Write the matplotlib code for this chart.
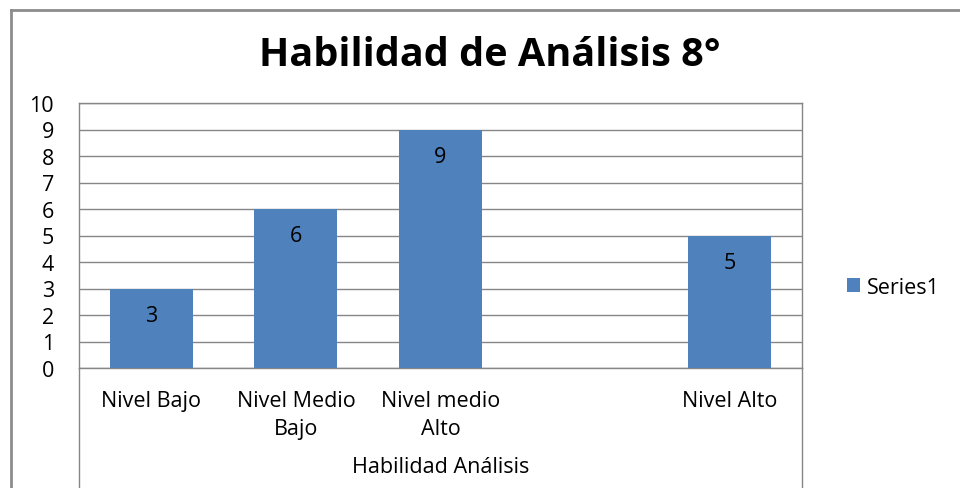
import matplotlib
matplotlib.use("Agg")
import matplotlib.pyplot as plt
from matplotlib.lines import Line2D

categories = ["Nivel Bajo", "Nivel Medio\nBajo", "Nivel medio\nAlto", "", "Nivel Alto"]
values = [3, 6, 9, 0, 5]
labels_shown = [True, True, True, False, True]
yticks = list(range(0, 11))
title = "Habilidad de Análisis 8°"
group_label = "Habilidad Análisis"
series_name = "Series1"

W, H = 960, 489
plt.rcParams['font.family'] = ['Open Sans', 'DejaVu Sans']
fig = plt.figure(figsize=(W / 100, H / 100), dpi=100)
fig.patch.set_facecolor("white")

x0, x1, ytop, ybot = 79, 802, 104, 369
ax = fig.add_axes([x0 / W, (H - ybot) / H, (x1 - x0) / W, (ybot - ytop) / H])

bar_color = "#4F81BD"
grid_color = "#868686"
fs = 15.5
xs = list(range(len(categories)))
bars = ax.bar(xs, values, width=0.575, color=bar_color, zorder=3, label=series_name)
for x, v, show in zip(xs, values, labels_shown):
    if show:
        ax.annotate(str(v), (x, v), xytext=(0, -27), textcoords="offset pixels",
                    ha="center", va="center", fontsize=fs, color="#000000", zorder=4)

ax.set_xlim(-0.5, len(categories) - 0.5)
ax.set_ylim(0, 10)
ax.set_yticks(yticks)
ax.set_yticklabels([str(t) for t in yticks], fontsize=fs)
ax.set_xticks(xs)
ax.set_xticklabels(categories, fontsize=fs, linespacing=1.42)
ax.tick_params(axis="both", length=0)
ax.tick_params(axis="y", pad=18)
ax.tick_params(axis="x", pad=16)
ax.yaxis.grid(True, color=grid_color, linewidth=1.0, zorder=0)
ax.set_axisbelow(True)
for s in ["top", "right", "left", "bottom"]:
    ax.spines[s].set_color(grid_color)
    ax.spines[s].set_linewidth(1.0)

# extended vertical lines for category group area
fig.add_artist(Line2D([x0 / W, x0 / W], [0, (H - ybot) / H], color=grid_color, lw=1.0))
fig.add_artist(Line2D([x1 / W, x1 / W], [0, (H - ybot) / H], color=grid_color, lw=1.0))

fig.text((x0 + x1) / 2 / W, 1 - 468 / H, group_label, ha="center", va="center", fontsize=fs)

fig.text((258 + 722) / 2 / W, 1 - 55 / H, title, ha="center", va="center", fontsize=28.5, fontweight="bold")

leg = fig.legend(handles=[bars], labels=[series_name], loc="center left",
                 bbox_to_anchor=(828 / W, 1 - 288 / H), frameon=False, fontsize=fs,
                 handlelength=0.6, handleheight=0.6, handletextpad=0.3)

# outer chart border
fig.add_artist(Line2D([11 / W, 11 / W], [0, 1 - 11 / H], color="#8c8c8c", lw=2.0))
fig.add_artist(Line2D([11 / W, 1], [1 - 11 / H, 1 - 11 / H], color="#8c8c8c", lw=2.0))

fig.savefig("out.png", dpi=100, facecolor="white")
